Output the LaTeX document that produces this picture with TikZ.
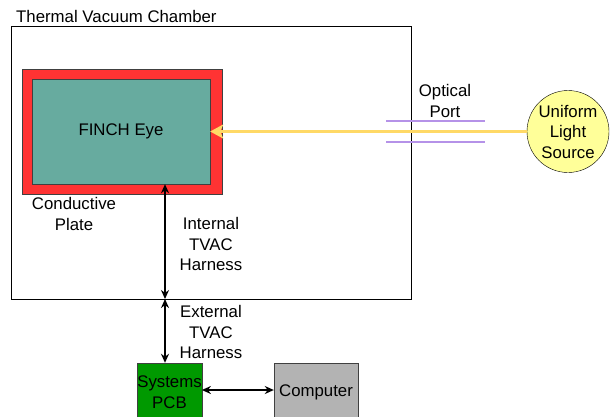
\documentclass[tikz,border=0pt]{standalone}
\usepackage{fontspec}
\setmainfont{Liberation Sans}
\usetikzlibrary{arrows.meta}

\definecolor{platered}{HTML}{FF3333}
\definecolor{eyeteal}{HTML}{67AB9F}
\definecolor{beamyellow}{HTML}{FFD966}
\definecolor{portpurple}{HTML}{B592E8}
\definecolor{lampyellow}{HTML}{FFFF99}
\definecolor{pcbgreen}{HTML}{009900}
\definecolor{pcgray}{HTML}{B3B3B3}

\tikzset{
  block/.style={draw=black!75, align=center, inner sep=0pt},
  label/.style={align=center, inner sep=0pt},
  harness/.style={line width=1.7pt, {Stealth[length=9pt,width=8pt]}-{Stealth[length=9pt,width=8pt]}}
}

\begin{document}
\begin{tikzpicture}[x=1pt, y=-1pt, font=\fontsize{16.8}{20.5}\selectfont]
  \useasboundingbox (0,0) rectangle (610,416);

  % chamber
  \node[draw, minimum width=400, minimum height=273, inner sep=0pt] (tvac) at (211,162.5) {};
  \node[anchor=south west, inner sep=0pt] (tvactitle) at (16,23) {Thermal Vacuum Chamber};

  % plate and eye
  \node[block, fill=platered, minimum width=200, minimum height=125] (plate) at (122,131.5) {};
  \node[block, fill=eyeteal, minimum width=178, minimum height=105] (eye) at (121,131.5) {FINCH Eye};
  \node[label] (platelbl) at (74,214) {Conductive\\Plate};

  % optical port
  \draw[portpurple, line width=2.3pt] (386,121) -- (485,121);
  \draw[portpurple, line width=2.3pt] (386,142) -- (485,142);
  \node[label] (portlbl) at (445,101) {Optical\\Port};

  % light source
  \node[draw, fill=lampyellow, circle, minimum size=82, label, draw] (lamp) at (568,131.5) {Uniform\\Light\\Source};
  \draw[beamyellow, line width=3.2pt, -{Stealth[length=13pt,width=14pt,inset=3pt]}] (lamp.west) -- (eye.east);

  % harnesses
  \coordinate (wall) at (165,299);
  \node[block, fill=pcbgreen, minimum width=63, minimum height=58] (pcb) at (169.5,392) {Systems\\PCB};
  \node[block, fill=pcgray, minimum width=84, minimum height=58] (computer) at (316,392) {Computer};

  \draw[harness] (wall |- eye.south) -- (wall);
  \draw[harness] (wall) -- (wall |- pcb.north);
  \draw[harness] (pcb.east |- 0,390) -- (computer.west |- 0,390);

  \node[label] (intlbl) at (211,244) {Internal\\TVAC\\Harness};
  \node[label] (extlbl) at (211,332) {External\\TVAC\\Harness};
\end{tikzpicture}
\end{document}
